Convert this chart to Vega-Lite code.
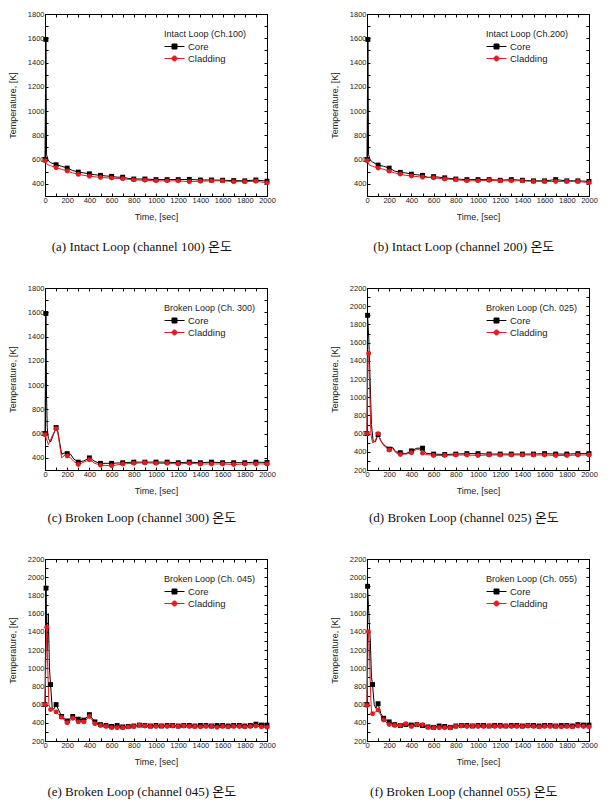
{
  "$schema": "https://vega.github.io/schema/vega-lite/v6.json",
  "padding": {"left": 7, "top": 9, "right": 0, "bottom": 0},
  "background": "white",
  "columns": 2,
  "spacing": {"row": 29, "column": 53},
  "resolve": {"scale": {"y": "independent", "x": "independent", "color": "independent", "shape": "independent", "stroke": "independent"}, "legend": {"color": "independent", "shape": "independent", "stroke": "independent"}},
  "datasets": {
    "a": [
      {"s":"Core","t":0,"v":600},{"s":"Core","t":8,"v":1590},{"s":"Core","t":14,"v":640},{"s":"Core","t":30,"v":590},{"s":"Core","t":50,"v":575},{"s":"Core","t":100,"v":558},{"s":"Core","t":150,"v":545},{"s":"Core","t":200,"v":530},{"s":"Core","t":250,"v":510},{"s":"Core","t":300,"v":497},{"s":"Core","t":350,"v":490},{"s":"Core","t":400,"v":483},{"s":"Core","t":450,"v":475},{"s":"Core","t":500,"v":470},{"s":"Core","t":550,"v":465},{"s":"Core","t":600,"v":462},{"s":"Core","t":650,"v":455},{"s":"Core","t":700,"v":455},{"s":"Core","t":750,"v":445},{"s":"Core","t":800,"v":440},{"s":"Core","t":900,"v":440},{"s":"Core","t":1000,"v":435},{"s":"Core","t":1100,"v":435},{"s":"Core","t":1200,"v":435},{"s":"Core","t":1300,"v":437},{"s":"Core","t":1400,"v":432},{"s":"Core","t":1500,"v":432},{"s":"Core","t":1600,"v":430},{"s":"Core","t":1700,"v":427},{"s":"Core","t":1800,"v":425},{"s":"Core","t":1900,"v":432},{"s":"Core","t":2000,"v":422},
      {"s":"Cladding","t":0,"v":590},{"s":"Cladding","t":20,"v":560},{"s":"Cladding","t":50,"v":550},{"s":"Cladding","t":100,"v":533},{"s":"Cladding","t":150,"v":520},{"s":"Cladding","t":200,"v":506},{"s":"Cladding","t":250,"v":490},{"s":"Cladding","t":300,"v":478},{"s":"Cladding","t":350,"v":470},{"s":"Cladding","t":400,"v":463},{"s":"Cladding","t":450,"v":458},{"s":"Cladding","t":500,"v":453},{"s":"Cladding","t":550,"v":450},{"s":"Cladding","t":600,"v":448},{"s":"Cladding","t":700,"v":442},{"s":"Cladding","t":800,"v":433},{"s":"Cladding","t":900,"v":430},{"s":"Cladding","t":1000,"v":425},{"s":"Cladding","t":1100,"v":425},{"s":"Cladding","t":1200,"v":425},{"s":"Cladding","t":1300,"v":418},{"s":"Cladding","t":1400,"v":422},{"s":"Cladding","t":1500,"v":425},{"s":"Cladding","t":1600,"v":425},{"s":"Cladding","t":1700,"v":418},{"s":"Cladding","t":1800,"v":418},{"s":"Cladding","t":1900,"v":422},{"s":"Cladding","t":2000,"v":408}
    ],
    "b": [
      {"s":"Core","t":0,"v":600},{"s":"Core","t":8,"v":1590},{"s":"Core","t":14,"v":640},{"s":"Core","t":30,"v":595},{"s":"Core","t":50,"v":580},{"s":"Core","t":100,"v":555},{"s":"Core","t":150,"v":545},{"s":"Core","t":200,"v":530},{"s":"Core","t":250,"v":505},{"s":"Core","t":300,"v":495},{"s":"Core","t":350,"v":490},{"s":"Core","t":400,"v":480},{"s":"Core","t":450,"v":475},{"s":"Core","t":500,"v":470},{"s":"Core","t":550,"v":452},{"s":"Core","t":600,"v":460},{"s":"Core","t":650,"v":455},{"s":"Core","t":700,"v":450},{"s":"Core","t":800,"v":440},{"s":"Core","t":900,"v":435},{"s":"Core","t":1000,"v":435},{"s":"Core","t":1100,"v":435},{"s":"Core","t":1200,"v":430},{"s":"Core","t":1300,"v":435},{"s":"Core","t":1400,"v":430},{"s":"Core","t":1500,"v":425},{"s":"Core","t":1600,"v":425},{"s":"Core","t":1700,"v":435},{"s":"Core","t":1800,"v":425},{"s":"Core","t":1900,"v":425},{"s":"Core","t":2000,"v":420},
      {"s":"Cladding","t":0,"v":590},{"s":"Cladding","t":20,"v":555},{"s":"Cladding","t":50,"v":545},{"s":"Cladding","t":100,"v":530},{"s":"Cladding","t":150,"v":520},{"s":"Cladding","t":200,"v":505},{"s":"Cladding","t":250,"v":490},{"s":"Cladding","t":300,"v":480},{"s":"Cladding","t":350,"v":470},{"s":"Cladding","t":400,"v":465},{"s":"Cladding","t":500,"v":455},{"s":"Cladding","t":550,"v":455},{"s":"Cladding","t":600,"v":450},{"s":"Cladding","t":700,"v":440},{"s":"Cladding","t":800,"v":435},{"s":"Cladding","t":900,"v":425},{"s":"Cladding","t":1000,"v":425},{"s":"Cladding","t":1100,"v":430},{"s":"Cladding","t":1200,"v":425},{"s":"Cladding","t":1300,"v":425},{"s":"Cladding","t":1400,"v":425},{"s":"Cladding","t":1500,"v":420},{"s":"Cladding","t":1600,"v":420},{"s":"Cladding","t":1700,"v":420},{"s":"Cladding","t":1800,"v":420},{"s":"Cladding","t":1900,"v":420},{"s":"Cladding","t":2000,"v":410}
    ],
    "c": [
      {"s":"Core","t":0,"v":600},{"s":"Core","t":8,"v":1590},{"s":"Core","t":14,"v":900},{"s":"Core","t":20,"v":650},{"s":"Core","t":30,"v":560},{"s":"Core","t":50,"v":530},{"s":"Core","t":75,"v":590},{"s":"Core","t":100,"v":650},{"s":"Core","t":115,"v":620},{"s":"Core","t":150,"v":430},{"s":"Core","t":175,"v":440},{"s":"Core","t":200,"v":435},{"s":"Core","t":230,"v":430},{"s":"Core","t":260,"v":390},{"s":"Core","t":300,"v":365},{"s":"Core","t":350,"v":375},{"s":"Core","t":400,"v":400},{"s":"Core","t":450,"v":370},{"s":"Core","t":500,"v":355},{"s":"Core","t":600,"v":355},{"s":"Core","t":700,"v":360},{"s":"Core","t":800,"v":365},{"s":"Core","t":900,"v":365},{"s":"Core","t":1000,"v":365},{"s":"Core","t":1100,"v":365},{"s":"Core","t":1200,"v":360},{"s":"Core","t":1300,"v":365},{"s":"Core","t":1400,"v":360},{"s":"Core","t":1500,"v":365},{"s":"Core","t":1600,"v":360},{"s":"Core","t":1700,"v":360},{"s":"Core","t":1800,"v":360},{"s":"Core","t":1900,"v":365},{"s":"Core","t":2000,"v":362},
      {"s":"Cladding","t":0,"v":590},{"s":"Cladding","t":20,"v":540},{"s":"Cladding","t":30,"v":510},{"s":"Cladding","t":50,"v":550},{"s":"Cladding","t":75,"v":600},{"s":"Cladding","t":100,"v":640},{"s":"Cladding","t":115,"v":610},{"s":"Cladding","t":150,"v":400},{"s":"Cladding","t":175,"v":420},{"s":"Cladding","t":200,"v":415},{"s":"Cladding","t":230,"v":400},{"s":"Cladding","t":260,"v":370},{"s":"Cladding","t":300,"v":345},{"s":"Cladding","t":350,"v":365},{"s":"Cladding","t":400,"v":385},{"s":"Cladding","t":450,"v":355},{"s":"Cladding","t":500,"v":340},{"s":"Cladding","t":600,"v":335},{"s":"Cladding","t":700,"v":350},{"s":"Cladding","t":800,"v":355},{"s":"Cladding","t":900,"v":360},{"s":"Cladding","t":1000,"v":355},{"s":"Cladding","t":1100,"v":355},{"s":"Cladding","t":1200,"v":350},{"s":"Cladding","t":1300,"v":355},{"s":"Cladding","t":1400,"v":350},{"s":"Cladding","t":1500,"v":350},{"s":"Cladding","t":1600,"v":350},{"s":"Cladding","t":1700,"v":345},{"s":"Cladding","t":1800,"v":350},{"s":"Cladding","t":1900,"v":350},{"s":"Cladding","t":2000,"v":350}
    ],
    "d": [
      {"s":"Core","t":0,"v":600},{"s":"Core","t":5,"v":1900},{"s":"Core","t":16,"v":1650},{"s":"Core","t":25,"v":1300},{"s":"Core","t":40,"v":700},{"s":"Core","t":55,"v":520},{"s":"Core","t":75,"v":510},{"s":"Core","t":100,"v":590},{"s":"Core","t":125,"v":520},{"s":"Core","t":150,"v":480},{"s":"Core","t":200,"v":430},{"s":"Core","t":230,"v":450},{"s":"Core","t":260,"v":400},{"s":"Core","t":300,"v":390},{"s":"Core","t":350,"v":380},{"s":"Core","t":400,"v":410},{"s":"Core","t":450,"v":440},{"s":"Core","t":480,"v":440},{"s":"Core","t":500,"v":440},{"s":"Core","t":530,"v":385},{"s":"Core","t":600,"v":375},{"s":"Core","t":700,"v":370},{"s":"Core","t":800,"v":375},{"s":"Core","t":900,"v":380},{"s":"Core","t":1000,"v":380},{"s":"Core","t":1100,"v":375},{"s":"Core","t":1200,"v":375},{"s":"Core","t":1300,"v":375},{"s":"Core","t":1400,"v":375},{"s":"Core","t":1500,"v":375},{"s":"Core","t":1600,"v":380},{"s":"Core","t":1700,"v":375},{"s":"Core","t":1800,"v":375},{"s":"Core","t":1900,"v":380},{"s":"Core","t":2000,"v":380},
      {"s":"Cladding","t":0,"v":600},{"s":"Cladding","t":8,"v":1450},{"s":"Cladding","t":15,"v":1480},{"s":"Cladding","t":22,"v":1200},{"s":"Cladding","t":35,"v":600},{"s":"Cladding","t":50,"v":500},{"s":"Cladding","t":70,"v":510},{"s":"Cladding","t":100,"v":600},{"s":"Cladding","t":125,"v":520},{"s":"Cladding","t":150,"v":470},{"s":"Cladding","t":200,"v":420},{"s":"Cladding","t":230,"v":440},{"s":"Cladding","t":260,"v":390},{"s":"Cladding","t":300,"v":370},{"s":"Cladding","t":350,"v":375},{"s":"Cladding","t":400,"v":390},{"s":"Cladding","t":450,"v":430},{"s":"Cladding","t":480,"v":420},{"s":"Cladding","t":500,"v":385},{"s":"Cladding","t":530,"v":370},{"s":"Cladding","t":600,"v":360},{"s":"Cladding","t":700,"v":360},{"s":"Cladding","t":800,"v":365},{"s":"Cladding","t":900,"v":365},{"s":"Cladding","t":1000,"v":360},{"s":"Cladding","t":1100,"v":365},{"s":"Cladding","t":1200,"v":365},{"s":"Cladding","t":1300,"v":365},{"s":"Cladding","t":1400,"v":365},{"s":"Cladding","t":1500,"v":365},{"s":"Cladding","t":1600,"v":365},{"s":"Cladding","t":1700,"v":360},{"s":"Cladding","t":1800,"v":360},{"s":"Cladding","t":1900,"v":365},{"s":"Cladding","t":2000,"v":365}
    ],
    "e": [
      {"s":"Core","t":0,"v":600},{"s":"Core","t":9,"v":1880},{"s":"Core","t":16,"v":1300},{"s":"Core","t":22,"v":1200},{"s":"Core","t":30,"v":1600},{"s":"Core","t":40,"v":1000},{"s":"Core","t":50,"v":820},{"s":"Core","t":65,"v":560},{"s":"Core","t":80,"v":550},{"s":"Core","t":100,"v":600},{"s":"Core","t":150,"v":470},{"s":"Core","t":200,"v":420},{"s":"Core","t":250,"v":470},{"s":"Core","t":300,"v":440},{"s":"Core","t":350,"v":430},{"s":"Core","t":400,"v":490},{"s":"Core","t":450,"v":410},{"s":"Core","t":500,"v":380},{"s":"Core","t":550,"v":370},{"s":"Core","t":600,"v":360},{"s":"Core","t":650,"v":370},{"s":"Core","t":700,"v":355},{"s":"Core","t":750,"v":360},{"s":"Core","t":800,"v":365},{"s":"Core","t":850,"v":375},{"s":"Core","t":900,"v":370},{"s":"Core","t":950,"v":365},{"s":"Core","t":1000,"v":370},{"s":"Core","t":1050,"v":365},{"s":"Core","t":1100,"v":370},{"s":"Core","t":1150,"v":370},{"s":"Core","t":1200,"v":365},{"s":"Core","t":1250,"v":370},{"s":"Core","t":1300,"v":370},{"s":"Core","t":1350,"v":365},{"s":"Core","t":1400,"v":370},{"s":"Core","t":1450,"v":370},{"s":"Core","t":1500,"v":365},{"s":"Core","t":1550,"v":370},{"s":"Core","t":1600,"v":370},{"s":"Core","t":1650,"v":365},{"s":"Core","t":1700,"v":370},{"s":"Core","t":1750,"v":370},{"s":"Core","t":1800,"v":365},{"s":"Core","t":1850,"v":370},{"s":"Core","t":1900,"v":385},{"s":"Core","t":1950,"v":375},{"s":"Core","t":2000,"v":375},
      {"s":"Cladding","t":0,"v":600},{"s":"Cladding","t":15,"v":1450},{"s":"Cladding","t":25,"v":1000},{"s":"Cladding","t":35,"v":600},{"s":"Cladding","t":50,"v":545},{"s":"Cladding","t":75,"v":540},{"s":"Cladding","t":100,"v":520},{"s":"Cladding","t":125,"v":490},{"s":"Cladding","t":150,"v":460},{"s":"Cladding","t":200,"v":400},{"s":"Cladding","t":250,"v":450},{"s":"Cladding","t":300,"v":410},{"s":"Cladding","t":350,"v":410},{"s":"Cladding","t":400,"v":470},{"s":"Cladding","t":450,"v":390},{"s":"Cladding","t":500,"v":370},{"s":"Cladding","t":550,"v":360},{"s":"Cladding","t":600,"v":345},{"s":"Cladding","t":650,"v":345},{"s":"Cladding","t":700,"v":345},{"s":"Cladding","t":750,"v":355},{"s":"Cladding","t":800,"v":360},{"s":"Cladding","t":850,"v":375},{"s":"Cladding","t":900,"v":365},{"s":"Cladding","t":950,"v":360},{"s":"Cladding","t":1000,"v":360},{"s":"Cladding","t":1050,"v":365},{"s":"Cladding","t":1100,"v":360},{"s":"Cladding","t":1150,"v":365},{"s":"Cladding","t":1200,"v":360},{"s":"Cladding","t":1250,"v":365},{"s":"Cladding","t":1300,"v":360},{"s":"Cladding","t":1350,"v":360},{"s":"Cladding","t":1400,"v":355},{"s":"Cladding","t":1450,"v":360},{"s":"Cladding","t":1500,"v":360},{"s":"Cladding","t":1550,"v":350},{"s":"Cladding","t":1600,"v":360},{"s":"Cladding","t":1650,"v":355},{"s":"Cladding","t":1700,"v":360},{"s":"Cladding","t":1750,"v":360},{"s":"Cladding","t":1800,"v":355},{"s":"Cladding","t":1850,"v":360},{"s":"Cladding","t":1900,"v":365},{"s":"Cladding","t":1950,"v":355},{"s":"Cladding","t":2000,"v":350}
    ],
    "f": [
      {"s":"Core","t":0,"v":600},{"s":"Core","t":5,"v":1900},{"s":"Core","t":13,"v":1700},{"s":"Core","t":20,"v":1500},{"s":"Core","t":30,"v":1300},{"s":"Core","t":40,"v":900},{"s":"Core","t":50,"v":820},{"s":"Core","t":65,"v":600},{"s":"Core","t":80,"v":560},{"s":"Core","t":100,"v":610},{"s":"Core","t":125,"v":500},{"s":"Core","t":150,"v":450},{"s":"Core","t":200,"v":410},{"s":"Core","t":250,"v":380},{"s":"Core","t":300,"v":370},{"s":"Core","t":350,"v":380},{"s":"Core","t":400,"v":375},{"s":"Core","t":450,"v":380},{"s":"Core","t":500,"v":370},{"s":"Core","t":550,"v":355},{"s":"Core","t":600,"v":350},{"s":"Core","t":650,"v":365},{"s":"Core","t":700,"v":360},{"s":"Core","t":750,"v":350},{"s":"Core","t":800,"v":365},{"s":"Core","t":850,"v":370},{"s":"Core","t":900,"v":370},{"s":"Core","t":950,"v":365},{"s":"Core","t":1000,"v":370},{"s":"Core","t":1050,"v":370},{"s":"Core","t":1100,"v":365},{"s":"Core","t":1150,"v":370},{"s":"Core","t":1200,"v":370},{"s":"Core","t":1250,"v":365},{"s":"Core","t":1300,"v":370},{"s":"Core","t":1350,"v":370},{"s":"Core","t":1400,"v":365},{"s":"Core","t":1450,"v":370},{"s":"Core","t":1500,"v":370},{"s":"Core","t":1550,"v":365},{"s":"Core","t":1600,"v":370},{"s":"Core","t":1650,"v":370},{"s":"Core","t":1700,"v":365},{"s":"Core","t":1750,"v":370},{"s":"Core","t":1800,"v":370},{"s":"Core","t":1850,"v":365},{"s":"Core","t":1900,"v":380},{"s":"Core","t":1950,"v":375},{"s":"Core","t":2000,"v":375},
      {"s":"Cladding","t":0,"v":590},{"s":"Cladding","t":12,"v":1400},{"s":"Cladding","t":20,"v":1300},{"s":"Cladding","t":30,"v":800},{"s":"Cladding","t":40,"v":520},{"s":"Cladding","t":50,"v":500},{"s":"Cladding","t":75,"v":520},{"s":"Cladding","t":100,"v":540},{"s":"Cladding","t":125,"v":480},{"s":"Cladding","t":150,"v":430},{"s":"Cladding","t":200,"v":380},{"s":"Cladding","t":250,"v":370},{"s":"Cladding","t":300,"v":370},{"s":"Cladding","t":350,"v":390},{"s":"Cladding","t":400,"v":360},{"s":"Cladding","t":450,"v":380},{"s":"Cladding","t":500,"v":380},{"s":"Cladding","t":550,"v":350},{"s":"Cladding","t":600,"v":345},{"s":"Cladding","t":650,"v":345},{"s":"Cladding","t":700,"v":345},{"s":"Cladding","t":750,"v":345},{"s":"Cladding","t":800,"v":360},{"s":"Cladding","t":850,"v":365},{"s":"Cladding","t":900,"v":360},{"s":"Cladding","t":950,"v":365},{"s":"Cladding","t":1000,"v":360},{"s":"Cladding","t":1050,"v":360},{"s":"Cladding","t":1100,"v":365},{"s":"Cladding","t":1150,"v":360},{"s":"Cladding","t":1200,"v":360},{"s":"Cladding","t":1250,"v":365},{"s":"Cladding","t":1300,"v":360},{"s":"Cladding","t":1350,"v":360},{"s":"Cladding","t":1400,"v":360},{"s":"Cladding","t":1450,"v":365},{"s":"Cladding","t":1500,"v":360},{"s":"Cladding","t":1550,"v":355},{"s":"Cladding","t":1600,"v":360},{"s":"Cladding","t":1650,"v":360},{"s":"Cladding","t":1700,"v":360},{"s":"Cladding","t":1750,"v":355},{"s":"Cladding","t":1800,"v":360},{"s":"Cladding","t":1850,"v":355},{"s":"Cladding","t":1900,"v":365},{"s":"Cladding","t":1950,"v":360},{"s":"Cladding","t":2000,"v":355}
    ]
  },
  "concat": [
    {
      "data": {"name": "a"}, "width": 222, "height": 182,
      "title": "(a) Intact Loop (channel 100) 온도",
      "encoding": {"color": {"field": "s", "type": "nominal", "scale": {"domain": ["Core", "Cladding"], "range": ["#000000", "#e8191f"]}, "legend": {"title": "Intact Loop (Ch.100)"}}},
      "layer": [
        {"mark": {"type": "line", "strokeWidth": 1},
         "encoding": {
           "x": {"field": "t", "type": "quantitative", "scale": {"domain": [0, 2000], "nice": false}, "axis": {"orient": "bottom", "values": [0,100,200,300,400,500,600,700,800,900,1000,1100,1200,1300,1400,1500,1600,1700,1800,1900,2000], "format": "d", "labelExpr": "datum.value % 200 == 0 ? datum.label : ''", "title": "Time, [sec]"}},
           "y": {"field": "v", "type": "quantitative", "scale": {"domain": [300, 1800], "nice": false, "zero": false}, "axis": {"orient": "left", "values": [300,400,500,600,700,800,900,1000,1100,1200,1300,1400,1500,1600,1700,1800], "format": "d", "labelExpr": "datum.value % 200 == 0 ? datum.label : ''", "title": "Temperature, [K]"}}}},
        {"transform": [{"filter": "datum.s == 'Core' && (datum.t % 100 == 0 || datum.t == 8)"}],
         "mark": {"type": "point", "shape": "square", "filled": true, "opacity": 1, "size": 24},
         "encoding": {
           "x": {"field": "t", "type": "quantitative", "scale": {"domain": [0, 2000], "nice": false}, "axis": {"orient": "top", "values": [0,100,200,300,400,500,600,700,800,900,1000,1100,1200,1300,1400,1500,1600,1700,1800,1900,2000], "labels": false, "title": null}},
           "y": {"field": "v", "type": "quantitative", "scale": {"domain": [300, 1800], "nice": false, "zero": false}, "axis": {"orient": "right", "values": [300,400,500,600,700,800,900,1000,1100,1200,1300,1400,1500,1600,1700,1800], "labels": false, "title": null}}}},
        {"transform": [{"filter": "datum.s == 'Cladding' && (datum.t % 100 == 0 || datum.t == 8)"}],
         "mark": {"type": "point", "shape": "circle", "filled": true, "opacity": 1, "size": 24},
         "encoding": {
           "x": {"field": "t", "type": "quantitative", "scale": {"domain": [0, 2000], "nice": false}, "axis": null},
           "y": {"field": "v", "type": "quantitative", "scale": {"domain": [300, 1800], "nice": false, "zero": false}, "axis": null}}},
        {"transform": [{"filter": "false"}],
         "mark": {"type": "point", "filled": true, "opacity": 1},
         "encoding": {
           "stroke": {"field": "s", "type": "nominal", "scale": {"domain": ["Core", "Cladding"], "range": ["#000000", "#e8191f"]}, "legend": {"title": "Intact Loop (Ch.100)"}},
           "shape": {"field": "s", "type": "nominal", "scale": {"domain": ["Core", "Cladding"], "range": ["M-1,0H3M0.5,-0.5H1.5V0.5H0.5Z", "M-1,0H3M1.5,0A0.5,0.5 0 1 1 0.5,0A0.5,0.5 0 1 1 1.5,0Z"]}, "legend": {"title": "Intact Loop (Ch.100)"}}}}
      ]
    },
    {
      "data": {"name": "b"}, "width": 222, "height": 182,
      "title": "(b) Intact Loop (channel 200) 온도",
      "encoding": {"color": {"field": "s", "type": "nominal", "scale": {"domain": ["Core", "Cladding"], "range": ["#000000", "#e8191f"]}, "legend": {"title": "Intact Loop (Ch.200)"}}},
      "layer": [
        {"mark": {"type": "line", "strokeWidth": 1},
         "encoding": {
           "x": {"field": "t", "type": "quantitative", "scale": {"domain": [0, 2000], "nice": false}, "axis": {"orient": "bottom", "values": [0,100,200,300,400,500,600,700,800,900,1000,1100,1200,1300,1400,1500,1600,1700,1800,1900,2000], "format": "d", "labelExpr": "datum.value % 200 == 0 ? datum.label : ''", "title": "Time, [sec]"}},
           "y": {"field": "v", "type": "quantitative", "scale": {"domain": [300, 1800], "nice": false, "zero": false}, "axis": {"orient": "left", "values": [300,400,500,600,700,800,900,1000,1100,1200,1300,1400,1500,1600,1700,1800], "format": "d", "labelExpr": "datum.value % 200 == 0 ? datum.label : ''", "title": "Temperature, [K]"}}}},
        {"transform": [{"filter": "datum.s == 'Core' && (datum.t % 100 == 0 || datum.t == 8)"}],
         "mark": {"type": "point", "shape": "square", "filled": true, "opacity": 1, "size": 24},
         "encoding": {
           "x": {"field": "t", "type": "quantitative", "scale": {"domain": [0, 2000], "nice": false}, "axis": {"orient": "top", "values": [0,100,200,300,400,500,600,700,800,900,1000,1100,1200,1300,1400,1500,1600,1700,1800,1900,2000], "labels": false, "title": null}},
           "y": {"field": "v", "type": "quantitative", "scale": {"domain": [300, 1800], "nice": false, "zero": false}, "axis": {"orient": "right", "values": [300,400,500,600,700,800,900,1000,1100,1200,1300,1400,1500,1600,1700,1800], "labels": false, "title": null}}}},
        {"transform": [{"filter": "datum.s == 'Cladding' && (datum.t % 100 == 0 || datum.t == 8)"}],
         "mark": {"type": "point", "shape": "circle", "filled": true, "opacity": 1, "size": 24},
         "encoding": {
           "x": {"field": "t", "type": "quantitative", "scale": {"domain": [0, 2000], "nice": false}, "axis": null},
           "y": {"field": "v", "type": "quantitative", "scale": {"domain": [300, 1800], "nice": false, "zero": false}, "axis": null}}},
        {"transform": [{"filter": "false"}],
         "mark": {"type": "point", "filled": true, "opacity": 1},
         "encoding": {
           "stroke": {"field": "s", "type": "nominal", "scale": {"domain": ["Core", "Cladding"], "range": ["#000000", "#e8191f"]}, "legend": {"title": "Intact Loop (Ch.200)"}},
           "shape": {"field": "s", "type": "nominal", "scale": {"domain": ["Core", "Cladding"], "range": ["M-1,0H3M0.5,-0.5H1.5V0.5H0.5Z", "M-1,0H3M1.5,0A0.5,0.5 0 1 1 0.5,0A0.5,0.5 0 1 1 1.5,0Z"]}, "legend": {"title": "Intact Loop (Ch.200)"}}}}
      ]
    },
    {
      "data": {"name": "c"}, "width": 222, "height": 182,
      "title": {"text": "(c) Broken Loop (channel 300) 온도", "offset": 16},
      "encoding": {"color": {"field": "s", "type": "nominal", "scale": {"domain": ["Core", "Cladding"], "range": ["#000000", "#e8191f"]}, "legend": {"title": "Broken Loop (Ch. 300)"}}},
      "layer": [
        {"mark": {"type": "line", "strokeWidth": 1},
         "encoding": {
           "x": {"field": "t", "type": "quantitative", "scale": {"domain": [0, 2000], "nice": false}, "axis": {"orient": "bottom", "values": [0,100,200,300,400,500,600,700,800,900,1000,1100,1200,1300,1400,1500,1600,1700,1800,1900,2000], "format": "d", "labelExpr": "datum.value % 200 == 0 ? datum.label : ''", "title": "Time, [sec]"}},
           "y": {"field": "v", "type": "quantitative", "scale": {"domain": [300, 1800], "nice": false, "zero": false}, "axis": {"orient": "left", "values": [300,400,500,600,700,800,900,1000,1100,1200,1300,1400,1500,1600,1700,1800], "format": "d", "labelExpr": "datum.value % 200 == 0 ? datum.label : ''", "title": "Temperature, [K]"}}}},
        {"transform": [{"filter": "datum.s == 'Core' && (datum.t % 100 == 0 || datum.t == 8)"}],
         "mark": {"type": "point", "shape": "square", "filled": true, "opacity": 1, "size": 24},
         "encoding": {
           "x": {"field": "t", "type": "quantitative", "scale": {"domain": [0, 2000], "nice": false}, "axis": {"orient": "top", "values": [0,100,200,300,400,500,600,700,800,900,1000,1100,1200,1300,1400,1500,1600,1700,1800,1900,2000], "labels": false, "title": null}},
           "y": {"field": "v", "type": "quantitative", "scale": {"domain": [300, 1800], "nice": false, "zero": false}, "axis": {"orient": "right", "values": [300,400,500,600,700,800,900,1000,1100,1200,1300,1400,1500,1600,1700,1800], "labels": false, "title": null}}}},
        {"transform": [{"filter": "datum.s == 'Cladding' && (datum.t % 100 == 0 || datum.t == 8)"}],
         "mark": {"type": "point", "shape": "circle", "filled": true, "opacity": 1, "size": 24},
         "encoding": {
           "x": {"field": "t", "type": "quantitative", "scale": {"domain": [0, 2000], "nice": false}, "axis": null},
           "y": {"field": "v", "type": "quantitative", "scale": {"domain": [300, 1800], "nice": false, "zero": false}, "axis": null}}},
        {"transform": [{"filter": "false"}],
         "mark": {"type": "point", "filled": true, "opacity": 1},
         "encoding": {
           "stroke": {"field": "s", "type": "nominal", "scale": {"domain": ["Core", "Cladding"], "range": ["#000000", "#e8191f"]}, "legend": {"title": "Broken Loop (Ch. 300)"}},
           "shape": {"field": "s", "type": "nominal", "scale": {"domain": ["Core", "Cladding"], "range": ["M-1,0H3M0.5,-0.5H1.5V0.5H0.5Z", "M-1,0H3M1.5,0A0.5,0.5 0 1 1 0.5,0A0.5,0.5 0 1 1 1.5,0Z"]}, "legend": {"title": "Broken Loop (Ch. 300)"}}}}
      ]
    },
    {
      "data": {"name": "d"}, "width": 222, "height": 182,
      "title": {"text": "(d) Broken Loop (channel 025) 온도", "offset": 16},
      "encoding": {"color": {"field": "s", "type": "nominal", "scale": {"domain": ["Core", "Cladding"], "range": ["#000000", "#e8191f"]}, "legend": {"title": "Broken Loop (Ch. 025)"}}},
      "layer": [
        {"mark": {"type": "line", "strokeWidth": 1},
         "encoding": {
           "x": {"field": "t", "type": "quantitative", "scale": {"domain": [0, 2000], "nice": false}, "axis": {"orient": "bottom", "values": [0,100,200,300,400,500,600,700,800,900,1000,1100,1200,1300,1400,1500,1600,1700,1800,1900,2000], "format": "d", "labelExpr": "datum.value % 200 == 0 ? datum.label : ''", "title": "Time, [sec]"}},
           "y": {"field": "v", "type": "quantitative", "scale": {"domain": [200, 2200], "nice": false, "zero": false}, "axis": {"orient": "left", "values": [200,300,400,500,600,700,800,900,1000,1100,1200,1300,1400,1500,1600,1700,1800,1900,2000,2100,2200], "format": "d", "labelExpr": "datum.value % 200 == 0 ? datum.label : ''", "title": "Temperature, [K]"}}}},
        {"transform": [{"filter": "datum.s == 'Core' && (datum.t % 100 == 0 || datum.t == 5)"}],
         "mark": {"type": "point", "shape": "square", "filled": true, "opacity": 1, "size": 24},
         "encoding": {
           "x": {"field": "t", "type": "quantitative", "scale": {"domain": [0, 2000], "nice": false}, "axis": {"orient": "top", "values": [0,100,200,300,400,500,600,700,800,900,1000,1100,1200,1300,1400,1500,1600,1700,1800,1900,2000], "labels": false, "title": null}},
           "y": {"field": "v", "type": "quantitative", "scale": {"domain": [200, 2200], "nice": false, "zero": false}, "axis": {"orient": "right", "values": [200,300,400,500,600,700,800,900,1000,1100,1200,1300,1400,1500,1600,1700,1800,1900,2000,2100,2200], "labels": false, "title": null}}}},
        {"transform": [{"filter": "datum.s == 'Cladding' && (datum.t % 100 == 0 || datum.t == 15)"}],
         "mark": {"type": "point", "shape": "circle", "filled": true, "opacity": 1, "size": 24},
         "encoding": {
           "x": {"field": "t", "type": "quantitative", "scale": {"domain": [0, 2000], "nice": false}, "axis": null},
           "y": {"field": "v", "type": "quantitative", "scale": {"domain": [200, 2200], "nice": false, "zero": false}, "axis": null}}},
        {"transform": [{"filter": "false"}],
         "mark": {"type": "point", "filled": true, "opacity": 1},
         "encoding": {
           "stroke": {"field": "s", "type": "nominal", "scale": {"domain": ["Core", "Cladding"], "range": ["#000000", "#e8191f"]}, "legend": {"title": "Broken Loop (Ch. 025)"}},
           "shape": {"field": "s", "type": "nominal", "scale": {"domain": ["Core", "Cladding"], "range": ["M-1,0H3M0.5,-0.5H1.5V0.5H0.5Z", "M-1,0H3M1.5,0A0.5,0.5 0 1 1 0.5,0A0.5,0.5 0 1 1 1.5,0Z"]}, "legend": {"title": "Broken Loop (Ch. 025)"}}}}
      ]
    },
    {
      "data": {"name": "e"}, "width": 222, "height": 182,
      "title": "(e) Broken Loop (channel 045) 온도",
      "encoding": {"color": {"field": "s", "type": "nominal", "scale": {"domain": ["Core", "Cladding"], "range": ["#000000", "#e8191f"]}, "legend": {"title": "Broken Loop (Ch. 045)"}}},
      "layer": [
        {"mark": {"type": "line", "strokeWidth": 1},
         "encoding": {
           "x": {"field": "t", "type": "quantitative", "scale": {"domain": [0, 2000], "nice": false}, "axis": {"orient": "bottom", "values": [0,100,200,300,400,500,600,700,800,900,1000,1100,1200,1300,1400,1500,1600,1700,1800,1900,2000], "format": "d", "labelExpr": "datum.value % 200 == 0 ? datum.label : ''", "title": "Time, [sec]"}},
           "y": {"field": "v", "type": "quantitative", "scale": {"domain": [200, 2200], "nice": false, "zero": false}, "axis": {"orient": "left", "values": [200,300,400,500,600,700,800,900,1000,1100,1200,1300,1400,1500,1600,1700,1800,1900,2000,2100,2200], "format": "d", "labelExpr": "datum.value % 200 == 0 ? datum.label : ''", "title": "Temperature, [K]"}}}},
        {"transform": [{"filter": "datum.s == 'Core' && (datum.t % 50 == 0 || datum.t == 9)"}],
         "mark": {"type": "point", "shape": "square", "filled": true, "opacity": 1, "size": 24},
         "encoding": {
           "x": {"field": "t", "type": "quantitative", "scale": {"domain": [0, 2000], "nice": false}, "axis": {"orient": "top", "values": [0,100,200,300,400,500,600,700,800,900,1000,1100,1200,1300,1400,1500,1600,1700,1800,1900,2000], "labels": false, "title": null}},
           "y": {"field": "v", "type": "quantitative", "scale": {"domain": [200, 2200], "nice": false, "zero": false}, "axis": {"orient": "right", "values": [200,300,400,500,600,700,800,900,1000,1100,1200,1300,1400,1500,1600,1700,1800,1900,2000,2100,2200], "labels": false, "title": null}}}},
        {"transform": [{"filter": "datum.s == 'Cladding' && (datum.t % 50 == 0 || datum.t == 15)"}],
         "mark": {"type": "point", "shape": "circle", "filled": true, "opacity": 1, "size": 24},
         "encoding": {
           "x": {"field": "t", "type": "quantitative", "scale": {"domain": [0, 2000], "nice": false}, "axis": null},
           "y": {"field": "v", "type": "quantitative", "scale": {"domain": [200, 2200], "nice": false, "zero": false}, "axis": null}}},
        {"transform": [{"filter": "false"}],
         "mark": {"type": "point", "filled": true, "opacity": 1},
         "encoding": {
           "stroke": {"field": "s", "type": "nominal", "scale": {"domain": ["Core", "Cladding"], "range": ["#000000", "#e8191f"]}, "legend": {"title": "Broken Loop (Ch. 045)"}},
           "shape": {"field": "s", "type": "nominal", "scale": {"domain": ["Core", "Cladding"], "range": ["M-1,0H3M0.5,-0.5H1.5V0.5H0.5Z", "M-1,0H3M1.5,0A0.5,0.5 0 1 1 0.5,0A0.5,0.5 0 1 1 1.5,0Z"]}, "legend": {"title": "Broken Loop (Ch. 045)"}}}}
      ]
    },
    {
      "data": {"name": "f"}, "width": 222, "height": 182,
      "title": "(f) Broken Loop (channel 055) 온도",
      "encoding": {"color": {"field": "s", "type": "nominal", "scale": {"domain": ["Core", "Cladding"], "range": ["#000000", "#e8191f"]}, "legend": {"title": "Broken Loop (Ch. 055)"}}},
      "layer": [
        {"mark": {"type": "line", "strokeWidth": 1},
         "encoding": {
           "x": {"field": "t", "type": "quantitative", "scale": {"domain": [0, 2000], "nice": false}, "axis": {"orient": "bottom", "values": [0,100,200,300,400,500,600,700,800,900,1000,1100,1200,1300,1400,1500,1600,1700,1800,1900,2000], "format": "d", "labelExpr": "datum.value % 200 == 0 ? datum.label : ''", "title": "Time, [sec]"}},
           "y": {"field": "v", "type": "quantitative", "scale": {"domain": [200, 2200], "nice": false, "zero": false}, "axis": {"orient": "left", "values": [200,300,400,500,600,700,800,900,1000,1100,1200,1300,1400,1500,1600,1700,1800,1900,2000,2100,2200], "format": "d", "labelExpr": "datum.value % 200 == 0 ? datum.label : ''", "title": "Temperature, [K]"}}}},
        {"transform": [{"filter": "datum.s == 'Core' && (datum.t % 50 == 0 || datum.t == 5)"}],
         "mark": {"type": "point", "shape": "square", "filled": true, "opacity": 1, "size": 24},
         "encoding": {
           "x": {"field": "t", "type": "quantitative", "scale": {"domain": [0, 2000], "nice": false}, "axis": {"orient": "top", "values": [0,100,200,300,400,500,600,700,800,900,1000,1100,1200,1300,1400,1500,1600,1700,1800,1900,2000], "labels": false, "title": null}},
           "y": {"field": "v", "type": "quantitative", "scale": {"domain": [200, 2200], "nice": false, "zero": false}, "axis": {"orient": "right", "values": [200,300,400,500,600,700,800,900,1000,1100,1200,1300,1400,1500,1600,1700,1800,1900,2000,2100,2200], "labels": false, "title": null}}}},
        {"transform": [{"filter": "datum.s == 'Cladding' && (datum.t % 50 == 0 || datum.t == 12)"}],
         "mark": {"type": "point", "shape": "circle", "filled": true, "opacity": 1, "size": 24},
         "encoding": {
           "x": {"field": "t", "type": "quantitative", "scale": {"domain": [0, 2000], "nice": false}, "axis": null},
           "y": {"field": "v", "type": "quantitative", "scale": {"domain": [200, 2200], "nice": false, "zero": false}, "axis": null}}},
        {"transform": [{"filter": "false"}],
         "mark": {"type": "point", "filled": true, "opacity": 1},
         "encoding": {
           "stroke": {"field": "s", "type": "nominal", "scale": {"domain": ["Core", "Cladding"], "range": ["#000000", "#e8191f"]}, "legend": {"title": "Broken Loop (Ch. 055)"}},
           "shape": {"field": "s", "type": "nominal", "scale": {"domain": ["Core", "Cladding"], "range": ["M-1,0H3M0.5,-0.5H1.5V0.5H0.5Z", "M-1,0H3M1.5,0A0.5,0.5 0 1 1 0.5,0A0.5,0.5 0 1 1 1.5,0Z"]}, "legend": {"title": "Broken Loop (Ch. 055)"}}}}
      ]
    }
  ],
  "config": {
    "view": {"stroke": "#000000", "strokeWidth": 1},
    "axis": {"domainColor": "#000000", "domainWidth": 1, "tickColor": "#000000", "tickSize": -3, "tickWidth": 1, "grid": false, "labelFont": "Liberation Sans", "labelFontSize": 7.5, "labelColor": "#222222", "labelPadding": 3, "labelFlush": false, "labelOverlap": false, "titleFont": "Liberation Sans", "titleFontSize": 9, "titleFontWeight": "normal", "titleColor": "#222222", "titlePadding": 5},
    "axisX": {"titlePadding": 9},
    "axisY": {"titlePadding": 10, "labelPadding": 4},
    "legend": {
      "orient": "none", "legendX": 119, "legendY": 16,
      "titleFont": "Liberation Sans", "titleFontSize": 9, "titleFontWeight": "normal", "titleColor": "#222222", "titlePadding": 2, "titleLimit": 200,
      "labelFont": "Liberation Sans", "labelFontSize": 9.5, "labelColor": "#222222", "labelOffset": 13,
      "symbolSize": 100, "symbolStrokeWidth": 1, "symbolOpacity": 1, "rowPadding": 2
    },
    "title": {"font": "'Liberation Serif', 'Noto Sans CJK KR'", "fontSize": 13, "fontWeight": "normal", "color": "#111111", "orient": "bottom", "anchor": "middle", "frame": "bounds", "offset": 19}
  }
}
